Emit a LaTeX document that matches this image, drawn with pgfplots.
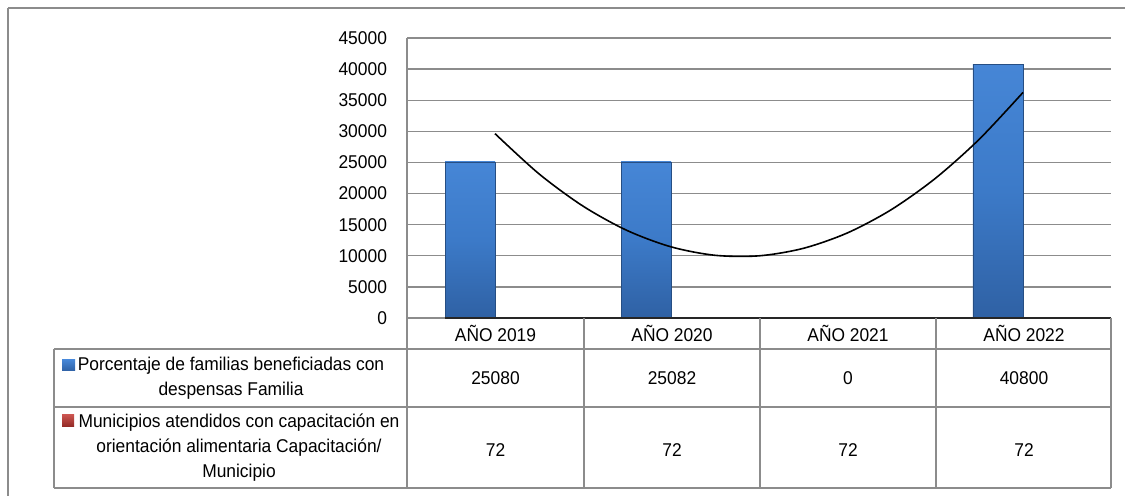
\documentclass[border=0pt]{standalone}
\usepackage{fontspec}
\setmainfont{Liberation Sans}[FakeStretch=0.94]
\usepackage{pgfplots}
\pgfplotsset{compat=1.18}
\definecolor{gridgray}{HTML}{8C8C8C}
\definecolor{bartop}{HTML}{4686D6}
\definecolor{barmid}{HTML}{3C7AC8}
\definecolor{barbot}{HTML}{2F61A4}
\definecolor{barred}{HTML}{C0352F}
\newcommand{\cf}{\fontsize{9.25pt}{12.5pt}\selectfont}
\begin{document}
\begin{tikzpicture}
\useasboundingbox (0,0) rectangle (562.5pt,-248pt);
\begin{axis}[
  name=ax,
  at={(203.5pt,-159pt)}, anchor=south west,
  scale only axis, width=352pt, height=140pt,
  xmin=0.5, xmax=4.5, ymin=0, ymax=45000,
  ytick={0,5000,10000,15000,20000,25000,30000,35000,40000,45000},
  scaled y ticks=false,
  xtick=\empty,
  axis x line=none, axis y line*=left,
  axis line style={-, draw=gridgray, line width=0.75pt},
  major tick length=0pt,
  ymajorgrids, grid style={gridgray, line width=0.7pt},
  yticklabel style={font=\cf, xshift=-6.5pt},
  /pgf/number format/1000 sep={},
  /pgf/number format/assume math mode=true,
  clip=false,
  bluebar/.style={ybar, bar width=25pt, bar shift=-12.5pt, draw=barbot!80!black, line width=0.3pt,
    top color=bartop, bottom color=barbot, middle color=barmid},
]
\addplot[bluebar] coordinates {(1,25080)};
\addplot[bluebar] coordinates {(2,25082)};
\addplot[ybar, bar width=25pt, bar shift=-12.5pt, draw=none, fill=none] coordinates {(3,0)};
\addplot[bluebar] coordinates {(4,40800)};
\addplot[ybar, bar width=25pt, bar shift=12.5pt, draw=none, fill=barred]
  coordinates {(1,72) (2,72) (3,72) (4,72)};
\addplot[black, line width=0.8pt, smooth, mark=none] coordinates {
 (1,29628) (1.25,23168) (1.5,17983) (1.75,14073) (2,11437) (2.25,10077)
 (2.5,9991) (2.75,11181) (3,13645) (3.25,17384) (3.5,22398) (3.75,28688) (4,36252)};
\end{axis}
\begin{scope}[x=0.5pt, y=-0.5pt]
\draw[gridgray, line width=0.75pt] (8,8) -- (1125,8);
\draw[gridgray, line width=0.75pt] (8,8) -- (8,496);
\draw[gridgray, line width=0.75pt] (407,318) -- (445,318);
\draw[black!85, line width=0.6pt] (445,318) -- (1111,318);
\foreach \yy in {349,407,488} \draw[gridgray, line width=0.75pt] (54,\yy) -- (1111,\yy);
\draw[gridgray, line width=0.75pt] (54,349) -- (54,488);
\foreach \xx in {407,584,760,936,1111} \draw[gridgray, line width=0.75pt] (\xx,318) -- (\xx,488);
\node[font=\cf] at (495.5,333) {AÑO 2019};
\node[font=\cf] at (672,333) {AÑO 2020};
\node[font=\cf] at (848,333) {AÑO 2021};
\node[font=\cf] at (1024,333) {AÑO 2022};
\node[font=\cf] at (495.5,378) {25080};
\node[font=\cf] at (672,378) {25082};
\node[font=\cf] at (848,378) {0};
\node[font=\cf] at (1024,378) {40800};
\node[font=\cf] at (495.5,450) {72};
\node[font=\cf] at (672,450) {72};
\node[font=\cf] at (848,450) {72};
\node[font=\cf] at (1024,450) {72};
\node[font=\cf, align=center, inner sep=0pt] at (231,378) {Porcentaje de familias beneficiadas con\\despensas Familia};
\node[font=\cf, align=center, inner sep=0pt] at (239,448) {Municipios atendidos con capacitación en\\orientación alimentaria Capacitación/\\Municipio};
\shade[top color=bartop, bottom color=barbot] (62,360) rectangle (75,371);
\shade[top color=barred!85!white, bottom color=barred!75!black] (62,415) rectangle (74,427);
\end{scope}
\end{tikzpicture}
\end{document}
